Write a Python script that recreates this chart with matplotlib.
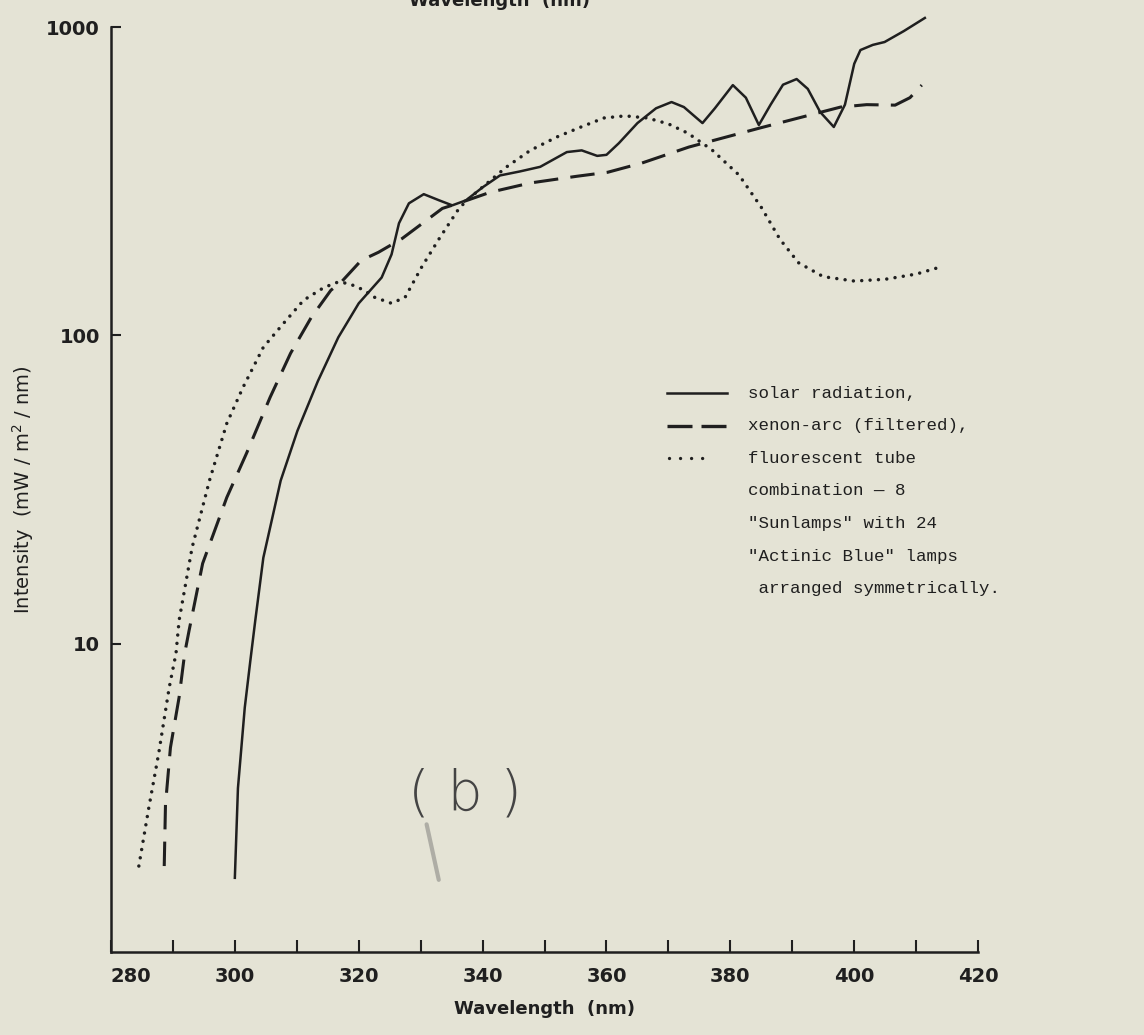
import matplotlib
matplotlib.use("Agg")
import matplotlib.pyplot as plt

# wavelength (nm) / intensity (mW/m2/nm)
solar_nm = [300.0, 300.5, 301.6, 302.5, 303.3, 304.6, 307.4, 310.1, 313.4, 316.7,
            320.0, 323.7, 325.3, 326.5, 328.1, 330.5, 333.0, 335.1, 337.3, 340.0,
            342.8, 346.0, 349.3, 353.6, 356.0, 358.5, 360.0, 362.0, 365.0, 368.0,
            370.5, 372.5, 375.5, 377.5, 380.4, 382.5, 384.6, 386.5, 388.5, 390.7,
            392.5, 394.5, 396.7, 398.5, 400.0, 401.0, 403.0, 404.9, 408.0, 411.4]
solar_val = [1.74, 3.4, 6.2, 8.8, 11.9, 19.0, 33.8, 49.0, 71.0, 98.5,
             127.0, 154.0, 183.0, 231.0, 268.0, 287.0, 274.0, 264.0, 274.0, 302.0,
             330.0, 340.0, 352.0, 393.0, 398.0, 382.0, 385.0, 420.0, 488.0, 545.0,
             571.0, 550.0, 488.0, 545.0, 648.0, 590.0, 481.0, 560.0, 650.0, 678.0,
             630.0, 530.0, 474.0, 560.0, 760.0, 842.0, 875.0, 894.0, 970.0, 1070.0]

xenon_nm = [288.6, 288.8, 289.6, 291.0, 291.9, 292.6, 294.8, 298.7, 301.9, 305.7,
            309.0, 312.3, 315.5, 317.2, 320.4, 323.2, 327.0, 333.5, 336.8, 341.2,
            347.7, 355.2, 360.2, 365.7, 373.3, 384.7, 397.8, 402.0, 406.6, 409.0,
            410.9]
xenon_val = [1.9, 3.0, 4.6, 6.7, 9.3, 11.0, 18.2, 29.8, 41.5, 63.0,
             87.5, 114.0, 140.0, 149.0, 175.0, 186.0, 206.0, 258.0, 271.0, 291.0,
             312.0, 328.0, 338.0, 362.0, 408.0, 470.0, 550.0, 560.0, 558.0, 590.0,
             648.0]

fluor_nm = [284.5, 286.1, 287.7, 289.4, 290.5, 291.0, 293.1, 295.9, 298.7, 301.3,
            304.6, 307.8, 311.1, 314.4, 316.7, 318.5, 320.9, 322.5, 325.3, 327.5,
            330.2, 333.0, 336.3, 338.9, 343.8, 347.7, 352.0, 356.0, 359.6, 363.0,
            366.6, 370.0, 373.1, 377.0, 381.4, 385.0, 388.0, 391.0, 395.0, 400.0,
            405.0, 410.0, 413.2]
fluor_val = [1.9, 2.93, 4.4, 7.2, 9.3, 11.9, 20.5, 33.8, 51.8, 67.7,
             91.5, 109.0, 130.0, 143.0, 149.0, 147.0, 140.0, 133.0, 127.0, 133.0,
             167.0, 206.0, 260.0, 290.0, 351.0, 398.0, 440.0, 475.0, 507.0, 515.0,
             507.0, 485.0, 453.0, 400.0, 331.0, 260.0, 205.0, 172.0, 155.0, 150.0,
             152.0, 158.0, 165.0]

x_ticks = list(range(280, 421, 10))
x_labels = [str(t) if t % 20 == 0 else "" for t in x_ticks]
y_ticks = [10, 100, 1000]
y_labels = ["10", "100", "1000"]

legend_labels = [
    "solar radiation,",
    "xenon-arc (filtered),",
    "fluorescent tube",
    "combination \u2014 8",
    "\"Sunlamps\" with 24",
    "\"Actinic Blue\" lamps",
    " arranged symmetrically.",
]

paper = "#e4e3d5"
ink = "#1f1f1f"

fig = plt.figure(figsize=(11.44, 10.35), dpi=100, facecolor=paper)
ax = fig.add_axes([0.097, 0.0802, 0.758, 0.8937])
ax.set_facecolor(paper)

ax.plot(solar_nm, solar_val, color=ink, lw=1.8, clip_on=False)
ax.plot(xenon_nm, xenon_val, color=ink, lw=2.2, dashes=(8, 4), clip_on=False)
ax.plot(fluor_nm, fluor_val, color=ink, lw=2.5, dashes=(0.01, 2.4),
        dash_capstyle="round", clip_on=False)

ax.set_yscale("log")
ax.set_xlim(280, 420)
ax.set_ylim(1, 1000)
ax.set_xticks(x_ticks)
ax.set_xticklabels(x_labels)
ax.set_yticks(y_ticks)
ax.set_yticklabels(y_labels)
ax.yaxis.set_minor_locator(matplotlib.ticker.NullLocator())

for side in ("top", "right"):
    ax.spines[side].set_visible(False)
for side in ("left", "bottom"):
    ax.spines[side].set_linewidth(1.8)
    ax.spines[side].set_color(ink)

ax.tick_params(axis="x", direction="in", length=8.5, width=1.5, pad=11, colors=ink,
               labelsize=14)
ax.tick_params(axis="y", direction="in", length=7.5, width=1.5, pad=8, colors=ink,
               labelsize=14)
for lab in ax.get_xticklabels() + ax.get_yticklabels():
    lab.set_fontweight("bold")
ax.get_xticklabels()[0].set_ha("left")

ax.set_xlabel("Wavelength  (nm)", fontsize=13, fontweight="bold", color=ink, labelpad=10)
ax.set_ylabel("Intensity  (mW / m$^2$ / nm)", fontsize=14, fontweight="medium",
              color=ink, labelpad=7)

# cut-off label of the figure above on the same page
fig.text(0.437, 0.999, "Wavelength  (nm)", fontsize=13, fontweight="bold", color=ink,
         ha="center", va="center")

# typed legend
mono = "Liberation Mono"
x0, xt = 0.641, 0.735
y_first, step = 0.604, 0.0352
ax.plot([x0, 0.71], [y_first, y_first], transform=ax.transAxes, color=ink, lw=1.8)
ax.plot([x0, 0.71], [y_first - step, y_first - step], transform=ax.transAxes,
        color=ink, lw=2.4, dashes=(7.5, 2.7))
ax.plot([x0 + 0.002, 0.69], [y_first - 2 * step, y_first - 2 * step],
        transform=ax.transAxes, color=ink, lw=2.4, dashes=(0.01, 3.3),
        dash_capstyle="round")
for i, text in enumerate(legend_labels):
    ax.text(xt, y_first - i * step, text, transform=ax.transAxes, fontsize=12.6,
            family=mono, color=ink, ha="left", va="center")

# handwritten panel mark
ax.text(0.408, 0.17, "( b )", transform=ax.transAxes, fontsize=40,
        fontweight="light", color="#444444", ha="center", va="center")
ax.plot([0.364, 0.378], [0.138, 0.078], transform=ax.transAxes, color="#8a8a86",
        lw=3, alpha=0.6, solid_capstyle="round")

fig.savefig("out.png", dpi=100, facecolor=paper)
